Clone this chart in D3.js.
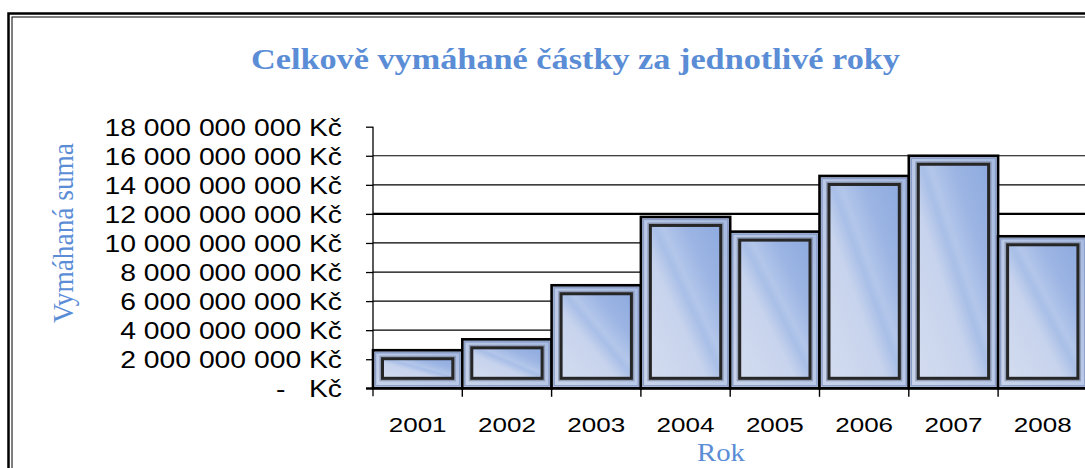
<!DOCTYPE html>
<meta charset="utf-8">
<head>
  <title>Celkově vymáhané částky</title>
  <style>
    body { margin: 0; background: #fff; }
    svg { display: block; }
  </style>
</head>
<body>
<script src="https://d3js.org/d3.v7.min.js"></script>
<div id="chart"></div>
<script>

// data (Kč)
var years = ["2001", "2002", "2003", "2004", "2005", "2006", "2007", "2008"];
var amounts = [2.62e9, 3.37e9, 7.09e9, 11.79e9, 10.78e9, 14.61e9, 16.0e9, 10.46e9];
var yTicks = [0, 2e9, 4e9, 6e9, 8e9, 10e9, 12e9, 14e9, 16e9, 18e9];

var titleText = "Celkově vymáhané částky za jednotlivé roky",
    yTitle = "Vymáhaná suma",
    xTitle = "Rok";

var blue = "#5a8dd6";
var width = 1085, height = 468;

var svg = d3.select("#chart").append("svg")
    .attr("width", width)
    .attr("height", height);

// gradients for the glassy bars
var defs = svg.append("defs");
var glass = defs.append("linearGradient").attr("id", "glass")
    .attr("x1", 0).attr("y1", 1).attr("x2", 1).attr("y2", 0);
[[0, "#d3dcef"], [0.4, "#c7d3ed"], [0.52, "#a9bfe7"], [0.58, "#b3c6ea"], [0.75, "#9bb4e3"], [1, "#8eaadf"]]
  .forEach(function(s) { glass.append("stop").attr("offset", s[0]).attr("stop-color", s[1]); });
var bevel = defs.append("linearGradient").attr("id", "bevel")
    .attr("x1", 0).attr("y1", 1).attr("x2", 1).attr("y2", 0);
[[0, "#cad4eb"], [0.5, "#b9c8e7"], [1, "#a6bae2"]]
  .forEach(function(s) { bevel.append("stop").attr("offset", s[0]).attr("stop-color", s[1]); });

// double frame
svg.append("rect").attr("x", 8.5).attr("y", 13.5).attr("width", 1200).attr("height", 600)
    .style("fill", "none").style("stroke", "#000").style("stroke-width", 2.5);
svg.append("rect").attr("x", 12).attr("y", 17).attr("width", 1200).attr("height", 600)
    .style("fill", "none").style("stroke", "#000").style("stroke-width", 1);

// scales
var x = d3.scaleBand().domain(years).range([373, 373 + 8 * 89.3]).padding(0);
var y = d3.scaleLinear().domain([0, 18e9]).range([388.3, 126.7]);

var fmtLocale = d3.formatLocale({decimal: ",", thousands: " ", grouping: [3], currency: ["", " Kč"]});
var fmt = function(d) { return d === 0 ? "-\u00a0\u00a0\u00a0Kč" : fmtLocale.format(",.0f")(d) + " Kč"; };

// gridlines
svg.append("g")
  .selectAll("line")
  .data(yTicks.filter(function(d) { return d > 0 && d < 18e9; }))
  .enter().append("line")
    .attr("x1", 373).attr("x2", width)
    .attr("y1", function(d) { return y(d); })
    .attr("y2", function(d) { return y(d); })
    .style("stroke", "#000")
    .style("stroke-width", function(d) { return d === 12e9 ? 2.2 : 1.2; });

// bars
var bars = svg.append("g").selectAll("g")
    .data(years.map(function(yr, i) { return {year: yr, value: amounts[i]}; }))
  .enter().append("g");

bars.append("rect")
    .attr("x", function(d) { return x(d.year); })
    .attr("y", function(d) { return y(d.value); })
    .attr("width", x.bandwidth())
    .attr("height", function(d) { return y(0) - y(d.value); })
    .style("fill", "url(#bevel)")
    .style("stroke", "#000")
    .style("stroke-width", 2.6);

bars.append("rect")
    .attr("x", function(d) { return x(d.year) + 2.5; })
    .attr("y", function(d) { return y(d.value) + 2.5; })
    .attr("width", x.bandwidth() - 5)
    .attr("height", function(d) { return y(0) - y(d.value) - 5; })
    .style("fill", "none")
    .style("stroke", "#8c9ec6")
    .style("stroke-width", 1.5);

// inner panel halo + panel
bars.append("rect")
    .attr("x", function(d) { return x(d.year) + 9.5; })
    .attr("y", function(d) { return y(d.value) + 8.5; })
    .attr("width", x.bandwidth() - 19)
    .attr("height", function(d) { return y(0) - y(d.value) - 18.5; })
    .style("fill", "none")
    .style("stroke", "#7f8aa3")
    .style("stroke-opacity", 0.7)
    .style("stroke-width", 6);

bars.append("rect")
    .attr("x", function(d) { return x(d.year) + 9.5; })
    .attr("y", function(d) { return y(d.value) + 8.5; })
    .attr("width", x.bandwidth() - 19)
    .attr("height", function(d) { return y(0) - y(d.value) - 18.5; })
    .style("fill", "url(#glass)")
    .style("stroke", "#262626")
    .style("stroke-width", 3);

// y axis
var yAxis = svg.append("g")
    .attr("transform", "translate(373,0)")
    .call(d3.axisLeft(y).tickValues(yTicks).tickSize(7).tickFormat(fmt));
yAxis.select(".domain").attr("d", "M0," + y(18e9) + "V" + (y(0) + 8))
    .style("stroke", "#000").style("stroke-width", 1.3);
yAxis.selectAll(".tick line").style("stroke", "#000").style("stroke-width", 1.3);
yAxis.selectAll(".tick text")
    .attr("x", -31 / 1.16)
    .attr("dy", null)
    .attr("y", 8.3)
    .attr("transform", "scale(1.16,1)")
    .style("font-family", "'Liberation Sans', Arial, sans-serif")
    .style("font-size", "24.4px")
    .style("fill", "#000");

// x axis baseline and boundary ticks
svg.append("line")
    .attr("x1", 366).attr("x2", width)
    .attr("y1", y(0)).attr("y2", y(0))
    .style("stroke", "#000").style("stroke-width", 2.2);
svg.append("g").selectAll("line")
    .data(years.slice(1).concat(["end"]))
  .enter().append("line")
    .attr("x1", function(d) { return d === "end" ? x.range()[1] : x(d); })
    .attr("x2", function(d) { return d === "end" ? x.range()[1] : x(d); })
    .attr("y1", y(0)).attr("y2", y(0) + 8.5)
    .style("stroke", "#000").style("stroke-width", 1.4);

var xAxis = svg.append("g")
    .attr("transform", "translate(0," + y(0) + ")")
    .call(d3.axisBottom(x).tickSize(0));
xAxis.select(".domain").remove();
xAxis.selectAll(".tick text")
    .attr("dy", null)
    .attr("y", 432.5 - 388.3)
    .attr("transform", "scale(1.24,1)")
    .attr("text-anchor", "middle")
    .style("font-family", "'Liberation Sans', Arial, sans-serif")
    .style("font-size", "21px")
    .style("fill", "#000");

// titles
svg.append("text")
    .attr("x", 251).attr("y", 69.3)
    .attr("textLength", 649)
    .attr("lengthAdjust", "spacingAndGlyphs")
    .style("font-family", "'Liberation Serif', 'Times New Roman', serif")
    .style("font-weight", "bold")
    .style("font-size", "29px")
    .style("fill", blue)
    .text(titleText);

svg.append("text")
    .attr("transform", "translate(73,233) rotate(-90) scale(1,1.25)")
    .attr("text-anchor", "middle")
    .attr("textLength", 180)
    .attr("lengthAdjust", "spacingAndGlyphs")
    .style("font-family", "'Liberation Serif', 'Times New Roman', serif")
    .style("font-size", "24px")
    .style("fill", blue)
    .text(yTitle);

svg.append("text")
    .attr("x", 721).attr("y", 461.5)
    .attr("text-anchor", "middle")
    .attr("transform", "translate(721,0) scale(1.15,1) translate(-721,0)")
    .style("font-family", "'Liberation Serif', 'Times New Roman', serif")
    .style("font-size", "25px")
    .style("fill", blue)
    .text(xTitle);

</script>
</body>
</html>
